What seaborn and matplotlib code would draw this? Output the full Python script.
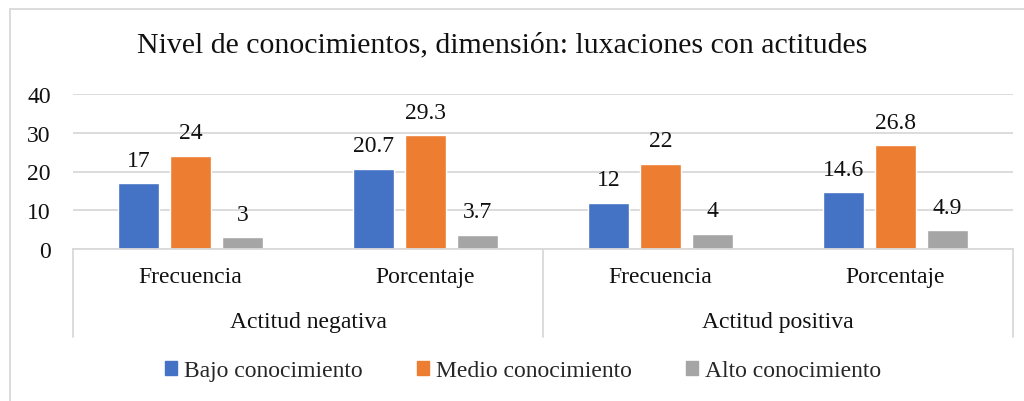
import matplotlib
matplotlib.use("Agg")
import matplotlib.pyplot as plt
import matplotlib.patches as mpatches
import matplotlib.transforms as mtransforms
import seaborn as sns
import pandas as pd

groups = ["Actitud negativa", "Actitud negativa", "Actitud positiva", "Actitud positiva"]
subcats = ["Frecuencia", "Porcentaje", "Frecuencia", "Porcentaje"]
series = ["Bajo conocimiento", "Medio conocimiento", "Alto conocimiento"]
bajo = [17, 20.7, 12, 14.6]
medio = [24, 29.3, 22, 26.8]
alto = [3, 3.7, 4, 4.9]
colors = ["#4472C4", "#ED7D31", "#A5A5A5"]
yticks = [0, 10, 20, 30, 40]
title = "Nivel de conocimientos, dimensión: luxaciones con actitudes"

sns.set_style("white")
plt.rcParams["font.family"] = ["Liberation Serif", "DejaVu Serif"]

keys = [f"{g}|{s}" for g, s in zip(groups, subcats)]
rows = []
for name, vals in zip(series, [bajo, medio, alto]):
    for k, v in zip(keys, vals):
        rows.append({"cat": k, "serie": name, "valor": v})
df = pd.DataFrame(rows)

FS = 17
TXT = "#111111"

fig = plt.figure(figsize=(10.24, 4.02), dpi=100)
ax = fig.add_axes([73 / 1024, 1 - 250 / 402, (1013 - 73) / 1024, 155 / 402])

sns.barplot(data=df, x="cat", y="valor", hue="serie", order=keys, hue_order=series,
            palette=colors, width=0.664, gap=0.23, saturation=1, ax=ax, legend=False,
            errorbar=None)

for cont in ax.containers:
    ax.bar_label(cont, fmt="%g", padding=9, fontsize=FS, color=TXT)

ax.set_ylim(0, 40)
ax.set_xlim(-0.5, 3.5)
ax.set_yticks(yticks)
ax.set_yticklabels([str(t) for t in yticks], fontsize=FS, color=TXT)
ax.yaxis.grid(True, color="#D9D9D9", linewidth=1.3)
ax.set_axisbelow(True)
ax.tick_params(axis="y", length=0, pad=16)
ax.tick_params(axis="x", length=0, pad=12)
ax.set_xticks(range(4))
ax.set_xticklabels(subcats, fontsize=FS, color=TXT)
ax.set_xlabel("")
ax.set_ylabel("")
for s in ["left", "right", "top"]:
    ax.spines[s].set_visible(False)
ax.spines["bottom"].set_color("#D9D9D9")
ax.spines["bottom"].set_linewidth(1.3)

trans = mtransforms.blended_transform_factory(ax.transData, ax.transAxes)
ybot = -(338 - 250) / 155
for xs in [-0.5, 1.5, 3.5]:
    ax.plot([xs, xs], [0, ybot], transform=trans, color="#D9D9D9", lw=1.3, clip_on=False)
for xc, g in [(0.5, "Actitud negativa"), (2.5, "Actitud positiva")]:
    ax.text(xc, -(323 - 250) / 155, g, transform=trans, ha="center", va="center",
            fontsize=FS, color=TXT)

fig.text(0.49, 1 - 45 / 402, title, ha="center", va="center", fontsize=21.5, color=TXT)

handles = [mpatches.Patch(color=c, label=n) for c, n in zip(colors, series)]
fig.legend(handles=handles, loc="center", bbox_to_anchor=(0.511, 1 - 372 / 402), ncol=3,
           frameon=False, fontsize=FS, handlelength=0.5, handleheight=0.55,
           handletextpad=0.3, columnspacing=2.3)

fig.patches.append(mpatches.Rectangle((10 / 1024, -0.1), 1.2, 1 - 10 / 402 + 0.1,
                                      transform=fig.transFigure, fill=False,
                                      edgecolor="#D9D9D9", linewidth=1.3))

fig.savefig("out.png", dpi=100)
